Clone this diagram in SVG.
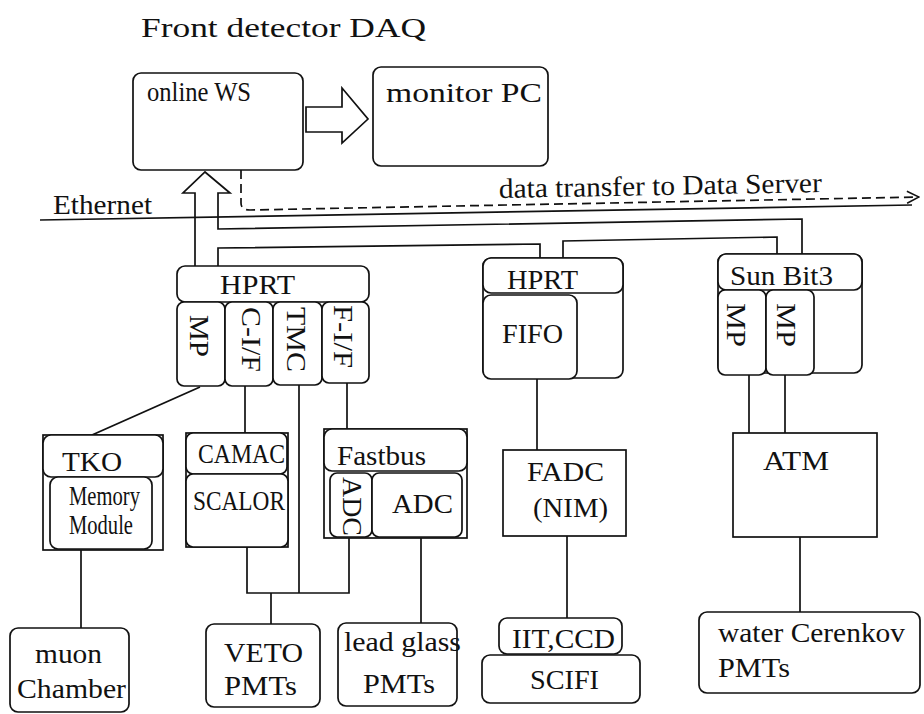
<svg xmlns="http://www.w3.org/2000/svg" width="924" height="714" viewBox="0 0 924 714">
<defs>
<style>
.b{fill:#fff;stroke:#111;stroke-width:1.7}
.c{fill:none;stroke:#111;stroke-width:1.7}
.t{font-family:"Liberation Serif","Times New Roman",serif;fill:#111;font-size:28px}
</style>
<marker id="chev" viewBox="0 0 14 14" refX="13" refY="7" markerWidth="14" markerHeight="14" markerUnits="userSpaceOnUse" orient="auto">
<path d="M1,1 L13,7 L1,13" fill="none" stroke="#111" stroke-width="1.5"/>
</marker>
</defs>
<rect width="924" height="714" fill="#fff"/>
<text class="t" x="141" y="37" font-size="34" textLength="285" lengthAdjust="spacingAndGlyphs">Front detector DAQ</text>

<g id="connectors">
<path class="c" d="M40,220 L912,205" stroke-width="3.5"/>
<path class="c" d="M241,170 V203 Q241,210 250,210 L919,197" stroke-dasharray="9 5" marker-end="url(#chev)"/>
<path class="b" d="M306,107 H342 V88 L368,119 L342,143 V132 H306 Z"/>
<path class="c" d="M195,266 V193 H183 L205,172 L230,193 H218 V229 L802,219 V254"/>
<path class="c" d="M218,266 V248 L540,244 V258"/>
<path class="c" d="M563,258 V241 L777,237 V254"/>
<path class="c" d="M200,387 L92,435"/>
<path class="c" d="M245,386 V433"/>
<path class="c" d="M299,384 V593"/>
<path class="c" d="M347,383 V429"/>
<path class="c" d="M247,547 V593 H349 V537"/>
<path class="c" d="M271,593 V624"/>
<path class="c" d="M81,550 V628"/>
<path class="c" d="M421,537 V623"/>
<path class="c" d="M537,379 V450"/>
<path class="c" d="M567,536 V618"/>
<path class="c" d="M749,375 V433"/>
<path class="c" d="M785,375 V433"/>
<path class="c" d="M800,537 V612"/>
</g>
<text class="t" x="53" y="214" textLength="99" lengthAdjust="spacingAndGlyphs">Ethernet</text>
<text class="t" x="499" y="198" transform="rotate(-1.06 499 198)" textLength="323" lengthAdjust="spacingAndGlyphs">data transfer to Data Server</text>

<g id="onlineWS">
<rect class="b" x="133" y="73" width="170" height="97" rx="8"/>
<text class="t" x="147" y="101" font-size="27" textLength="104" lengthAdjust="spacingAndGlyphs">online WS</text>
</g>
<g id="monitorPC">
<rect class="b" x="373" y="67" width="175" height="99" rx="8"/>
<text class="t" x="386" y="102" font-size="28" textLength="156" lengthAdjust="spacingAndGlyphs">monitor PC</text>
</g>

<g id="hprt1">
<rect class="b" x="177" y="266" width="192" height="36" rx="8"/>
<text class="t" x="220" y="294" textLength="75" lengthAdjust="spacingAndGlyphs">HPRT</text>
<rect class="b" x="177" y="302" width="48" height="84" rx="7"/>
<rect class="b" x="225" y="302" width="48" height="84" rx="7"/>
<rect class="b" x="273" y="302" width="49" height="83" rx="7"/>
<rect class="b" x="322" y="302" width="47" height="81" rx="7"/>
<text class="t" transform="translate(190 315) rotate(90)" textLength="42" lengthAdjust="spacingAndGlyphs">MP</text>
<text class="t" transform="translate(242 307) rotate(90)" textLength="65" lengthAdjust="spacingAndGlyphs">C-I/F</text>
<text class="t" transform="translate(287 307) rotate(90)" textLength="65" lengthAdjust="spacingAndGlyphs">TMC</text>
<text class="t" transform="translate(334 305) rotate(90)" textLength="63" lengthAdjust="spacingAndGlyphs">F-I/F</text>
</g>

<g id="hprt2">
<rect class="b" x="483" y="258" width="140" height="120" rx="8"/>
<rect class="b" x="483" y="258" width="140" height="35" rx="8"/>
<rect class="b" x="483" y="295" width="94" height="84" rx="8"/>
<text class="t" x="507" y="289" textLength="71" lengthAdjust="spacingAndGlyphs">HPRT</text>
<text class="t" x="502" y="343" textLength="61" lengthAdjust="spacingAndGlyphs">FIFO</text>
</g>

<g id="sunbit3">
<rect class="b" x="718" y="254" width="144" height="119" rx="8"/>
<rect class="b" x="718" y="254" width="144" height="36" rx="8"/>
<rect class="b" x="718" y="290" width="48" height="85" rx="7"/>
<rect class="b" x="766" y="290" width="48" height="85" rx="7"/>
<text class="t" x="730" y="285" textLength="103" lengthAdjust="spacingAndGlyphs">Sun Bit3</text>
<text class="t" transform="translate(727 303) rotate(90)" textLength="44" lengthAdjust="spacingAndGlyphs">MP</text>
<text class="t" transform="translate(777 303) rotate(90)" textLength="44" lengthAdjust="spacingAndGlyphs">MP</text>
</g>

<g id="tko">
<rect class="b" x="43" y="435" width="120" height="115"/>
<rect class="b" x="43" y="435" width="120" height="42" rx="8"/>
<rect class="b" x="50" y="477" width="102" height="72" rx="8"/>
<text class="t" x="62" y="471" textLength="60" lengthAdjust="spacingAndGlyphs">TKO</text>
<text class="t" x="69" y="505" font-size="19" textLength="71" lengthAdjust="spacingAndGlyphs">Memory</text>
<text class="t" x="69" y="534" font-size="19" textLength="64" lengthAdjust="spacingAndGlyphs">Module</text>
</g>

<g id="camac">
<rect class="b" x="186" y="433" width="102" height="114"/>
<rect class="b" x="186" y="433" width="101" height="41" rx="7"/>
<rect class="b" x="186" y="474" width="102" height="73" rx="7"/>
<text class="t" x="198" y="463" font-size="24" textLength="87" lengthAdjust="spacingAndGlyphs">CAMAC</text>
<text class="t" x="193" y="510" font-size="24" textLength="92" lengthAdjust="spacingAndGlyphs">SCALOR</text>
</g>

<g id="fastbus">
<rect class="b" x="324" y="429" width="143" height="109"/>
<rect class="b" x="324" y="429" width="143" height="42" rx="8"/>
<rect class="b" x="330" y="473" width="42" height="64" rx="7"/>
<rect class="b" x="372" y="473" width="90" height="64" rx="7"/>
<text class="t" x="337" y="465" textLength="89" lengthAdjust="spacingAndGlyphs">Fastbus</text>
<text class="t" transform="translate(343 477) rotate(90)" textLength="59" lengthAdjust="spacingAndGlyphs">ADC</text>
<text class="t" x="392" y="513" textLength="61" lengthAdjust="spacingAndGlyphs">ADC</text>
</g>

<g id="fadc">
<rect class="b" x="503" y="450" width="123" height="86"/>
<text class="t" x="527" y="481" textLength="77" lengthAdjust="spacingAndGlyphs">FADC</text>
<text class="t" x="533" y="517" textLength="75" lengthAdjust="spacingAndGlyphs">(NIM)</text>
</g>

<g id="atm">
<rect class="b" x="733" y="433" width="144" height="104"/>
<text class="t" x="763" y="470" textLength="66" lengthAdjust="spacingAndGlyphs">ATM</text>
</g>

<g id="muon">
<rect class="b" x="10" y="628" width="119" height="84" rx="8"/>
<text class="t" x="35" y="663" textLength="67" lengthAdjust="spacingAndGlyphs">muon</text>
<text class="t" x="17" y="698" textLength="109" lengthAdjust="spacingAndGlyphs">Chamber</text>
</g>

<g id="veto">
<rect class="b" x="206" y="624" width="114" height="83" rx="8"/>
<text class="t" x="224" y="662" textLength="79" lengthAdjust="spacingAndGlyphs">VETO</text>
<text class="t" x="224" y="695" textLength="73" lengthAdjust="spacingAndGlyphs">PMTs</text>
</g>

<g id="leadglass">
<rect class="b" x="338" y="623" width="119" height="83" rx="8"/>
<text class="t" x="344" y="651" textLength="117" lengthAdjust="spacingAndGlyphs">lead glass</text>
<text class="t" x="363" y="693" textLength="72" lengthAdjust="spacingAndGlyphs">PMTs</text>
</g>

<g id="iitccd">
<rect class="b" x="499" y="618" width="123" height="36" rx="8"/>
<text class="t" x="512" y="648" font-size="27" textLength="103" lengthAdjust="spacingAndGlyphs">IIT,CCD</text>
</g>
<g id="scifi">
<rect class="b" x="482" y="655" width="158" height="48" rx="8"/>
<text class="t" x="530" y="689" textLength="69" lengthAdjust="spacingAndGlyphs">SCIFI</text>
</g>

<g id="water">
<rect class="b" x="699" y="612" width="221" height="81" rx="8"/>
<text class="t" x="718" y="642" textLength="187" lengthAdjust="spacingAndGlyphs">water Cerenkov</text>
<text class="t" x="718" y="677" textLength="72" lengthAdjust="spacingAndGlyphs">PMTs</text>
</g>
</svg>
